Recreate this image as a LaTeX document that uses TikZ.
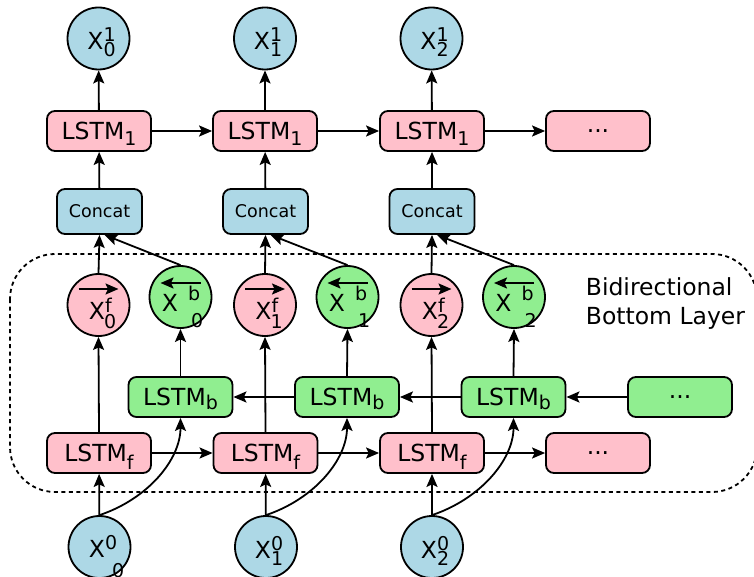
\documentclass[tikz,border=0pt]{standalone}
\usepackage{fontspec}
\setmainfont{DejaVu Sans}
\usetikzlibrary{arrows.meta,calc}
\definecolor{cin}{RGB}{173,216,230}
\definecolor{cfw}{RGB}{255,192,203}
\definecolor{cbw}{RGB}{144,238,144}
\newcommand{\subsz}{\fontsize{19bp}{19bp}\selectfont}
\newcommand{\xlab}[2]{\hspace{6bp}X\rlap{\raisebox{8bp}{\subsz #1}}\raisebox{-7bp}{\subsz #2}}
\newcommand{\xflab}[1]{\hspace{8bp}X\rlap{\raisebox{7bp}{\subsz f}}\hspace{-1bp}\raisebox{-9bp}{\subsz #1}}
\newcommand{\xblab}[1]{\hspace{4bp}X\hspace{10bp}\rlap{\raisebox{11bp}{\subsz b}}\hspace{3bp}\raisebox{-16bp}{\subsz #1}}
\newcommand{\lstm}[2]{LSTM\raisebox{-#2}{\subsz #1}}

\begin{document}
\begin{tikzpicture}[x=1bp, y=-1bp, line width=1.8bp,
		>={Stealth[length=13bp,width=11bp,inset=2.5bp]},
		txt/.style={font=\fontsize{23.5bp}{29bp}\selectfont},
		ball/.style={circle, draw, minimum size=62bp, inner sep=0pt, txt, text height=#1, text depth=0bp},
		cell/.style={draw, rounded corners=8bp, minimum width=104bp, minimum height=40bp, inner sep=0pt, txt, text depth=0bp},
		catbox/.style={draw, rounded corners=8bp, fill=cin, minimum width=85bp, minimum height=45bp, inner sep=0pt, font=\fontsize{17.5bp}{19bp}\selectfont}]
			%%%%% FRAME %%%%%
			\useasboundingbox (0,0) rectangle (754,577);
			\draw[dash pattern=on 4bp off 3.5bp, rounded corners=45bp] (10,254) rectangle (757,492);
			\node[txt, inner sep=0pt, anchor=north west, align=left] (note) at (585,277) {Bidirectional\\Bottom Layer};
			
			%%%%% INPUTS %%%%%
			\node[ball=20bp, fill=cin] (x00) at (99.5,547) {\hspace{14bp}X\rlap{\raisebox{8bp}{\subsz 0}}\hspace{7bp}\raisebox{-20bp}{\subsz 0}};
			\node[ball=22bp, fill=cin] (x01) at (266,547) {\xlab{0}{1}};
			\node[ball=22bp, fill=cin] (x02) at (432,547) {\xlab{0}{2}};
			
			%%%%% FORWARD / BACKWARD CELLS %%%%%
			\node[cell, fill=cfw] (lf0) at (99,453) {\lstm{f}{8bp}};
			\node[cell, fill=cfw] (lf1) at (265.5,453) {\lstm{f}{8bp}};
			\node[cell, fill=cfw] (lf2) at (432,453) {\lstm{f}{8bp}};
			\node[cell, fill=cfw] (lfd) at (598,453) {...};
			
			\node[cell, fill=cbw] (lb0) at (180.5,397) {\lstm{b}{4bp}};
			\node[cell, fill=cbw] (lb1) at (347,397) {\lstm{b}{4bp}};
			\node[cell, fill=cbw] (lb2) at (513.5,397) {\lstm{b}{4bp}};
			\node[cell, fill=cbw] (lbd) at (680,397) {...};
			
			%%%%% HIDDEN STATES %%%%%
			\node[ball=28bp, fill=cfw] (xf0) at (98.5,305) {\xflab{0}};
			\node[ball=28bp, fill=cfw] (xf1) at (265,305) {\xflab{1}};
			\node[ball=28bp, fill=cfw] (xf2) at (431.5,305) {\xflab{2}};
			\node[ball=28bp, fill=cbw] (xb0) at (180.5,297) {\xblab{0}};
			\node[ball=28bp, fill=cbw] (xb1) at (347.5,297) {\xblab{1}};
			\node[ball=28bp, fill=cbw] (xb2) at (514,297) {\xblab{2}};
			
			\draw[->] ($(xf0)+(-20,-16)$) -- ($(xf0)+(20,-16)$);
			\draw[->] ($(xf1)+(-20,-16)$) -- ($(xf1)+(20,-16)$);
			\draw[->] ($(xf2)+(-20,-16)$) -- ($(xf2)+(20,-16)$);
			\draw[->] ($(xb0)+(20,-14)$) -- ($(xb0)+(-20,-14)$);
			\draw[->] ($(xb1)+(20,-14)$) -- ($(xb1)+(-20,-14)$);
			\draw[->] ($(xb2)+(20,-14)$) -- ($(xb2)+(-20,-14)$);
			
			%%%%% TOP LAYER %%%%%
			\node[catbox] (cat0) at (99.5,211.5) {Concat};
			\node[catbox] (cat1) at (265.5,211.5) {Concat};
			\node[catbox] (cat2) at (432,211.5) {Concat};
			
			\node[cell, fill=cfw] (lt0) at (99,131) {\lstm{1}{6bp}};
			\node[cell, fill=cfw] (lt1) at (265,131) {\lstm{1}{6bp}};
			\node[cell, fill=cfw] (lt2) at (432,131) {\lstm{1}{6bp}};
			\node[cell, fill=cfw] (ltd) at (598,131) {...};
			
			\node[ball=23bp, fill=cin] (y0) at (98.5,38.5) {\xlab{1}{0}};
			\node[ball=23bp, fill=cin] (y1) at (265,38.5) {\xlab{1}{1}};
			\node[ball=23bp, fill=cin] (y2) at (431.5,38.5) {\xlab{1}{2}};
			
			%%%%% ARROWS %%%%%
			\draw[->] (x00) -- (lf0);
			\draw[->] (x01) -- (lf1);
			\draw[->] (x02) -- (lf2);
			\draw[->] (x00.north) .. controls +(48,-16) and +(0,42) .. (lb0.south);
			\draw[->] (x01.north) .. controls +(48,-16) and +(0,42) .. (lb1.south);
			\draw[->] (x02.north) .. controls +(48,-16) and +(0,42) .. (lb2.south);
			
			\draw[->] (lf0) -- (lf1);
			\draw[->] (lf1) -- (lf2);
			\draw[->] (lf2) -- (lfd);
			\draw[->] (lbd) -- (lb2);
			\draw[->] (lb2) -- (lb1);
			\draw[->] (lb1) -- (lb0);
			
			\draw[->] (lf0.north) -- (xf0.south);
			\draw[->] (lf1.north) -- (xf1.south);
			\draw[->] (lf2.north) -- (xf2.south);
			\draw[->] (lb0.north) -- (xb0.south);
			\draw[->] (lb1.north) -- (xb1.south);
			\draw[->] (lb2.north) -- (xb2.south);
			
			\draw[->] (xf0.north) -- (cat0.south);
			\draw[->] (xf1.north) -- (cat1.south);
			\draw[->] (xf2.north) -- (cat2.south);
			\draw[->] (xb0.north) -- (cat0.-78);
			\draw[->] (xb1.north) -- (cat1.-78);
			\draw[->] (xb2.north) -- (cat2.-78);
			
			\draw[->] (cat0) -- (lt0);
			\draw[->] (cat1) -- (lt1);
			\draw[->] (cat2) -- (lt2);
			\draw[->] (lt0) -- (lt1);
			\draw[->] (lt1) -- (lt2);
			\draw[->] (lt2) -- (ltd);
			\draw[->] (lt0) -- (y0);
			\draw[->] (lt1) -- (y1);
			\draw[->] (lt2) -- (y2);
			%%%%% END %%%%%
		\end{tikzpicture}
\end{document}
